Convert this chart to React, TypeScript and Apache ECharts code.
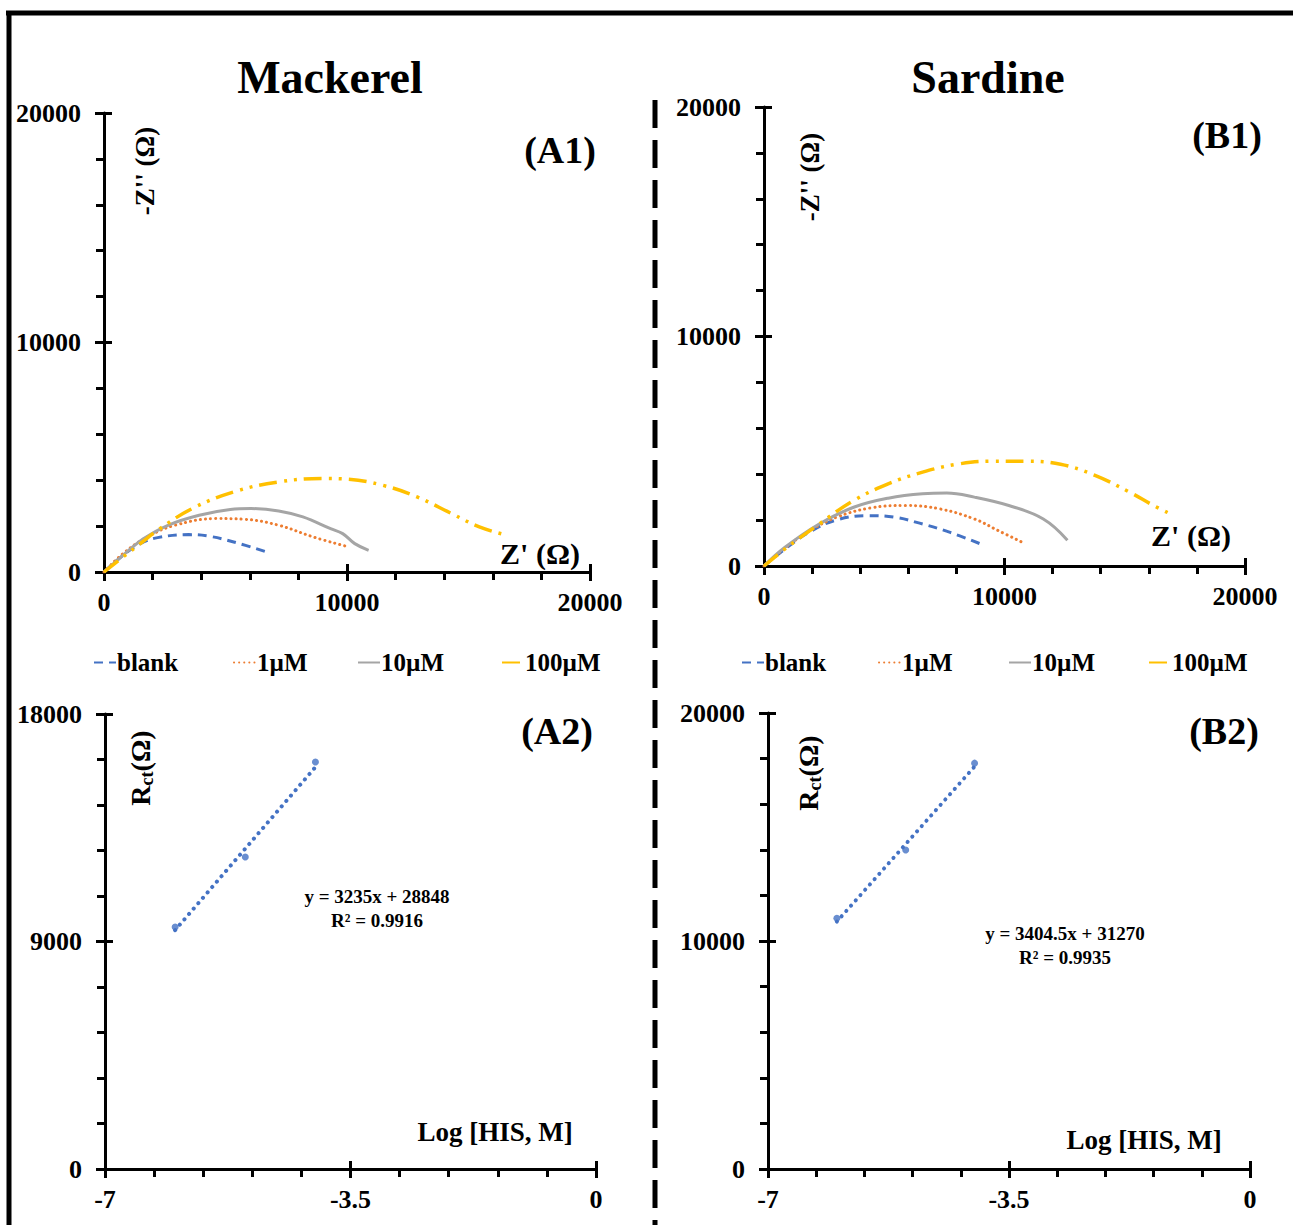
import React, { useEffect, useRef } from "react";
import * as echarts from "echarts";

// ---------- DATA ----------
// Nyquist plots, Mackerel (A1): [Z' (Ω), -Z'' (Ω)]
const a1Blank = [[0, 0], [783, 727], [1495, 1236], [2206, 1498], [3488, 1629], [4342, 1556], [5338, 1309], [6833, 829]];
const a1One = [[0, 0], [783, 800], [1779, 1527], [2918, 2036], [4626, 2327], [5765, 2298], [7189, 2036], [8612, 1527], [9964, 1120]];
const a1Ten = [[0, 0], [783, 727], [1637, 1455], [2633, 2036], [3915, 2473], [5196, 2720], [6050, 2764], [7189, 2662], [8185, 2400], [9324, 1891], [9822, 1673], [10320, 1236], [10890, 945]];
const a1Hundred = [[0, 0], [783, 655], [1495, 1236], [2206, 1818], [3630, 2764], [5338, 3491], [7189, 3927], [9039, 4073], [10036, 4044], [11459, 3782], [12883, 3273], [14306, 2545], [15445, 1964], [16584, 1600]];

// Nyquist plots, Sardine (B1)
const b1Blank = [[0, 0], [860, 732], [1864, 1463], [3011, 2005], [4301, 2195], [5448, 2122], [6595, 1829], [7742, 1463], [8961, 980]];
const b1One = [[0, 0], [860, 770], [1864, 1507], [3011, 2122], [4444, 2532], [5878, 2634], [7312, 2488], [8746, 2049], [9749, 1537], [10753, 1024]];
const b1Ten = [[0, 0], [860, 805], [2294, 1829], [3728, 2561], [5161, 2956], [6595, 3146], [7599, 3176], [8746, 3000], [10179, 2634], [11613, 2049], [12616, 1127]];
const b1Hundred = [[0, 0], [860, 732], [2294, 1829], [3728, 2854], [5161, 3578], [6595, 4090], [8029, 4434], [9462, 4566], [10896, 4566], [12330, 4434], [13763, 3951], [15197, 3220], [16201, 2634], [16846, 2298]];

// Calibration plots: Log [HIS, M] vs Rct (Ω)
const logConc = [-6, -5, -4];
const a2Rct = [9570, 12340, 16100];
const b2Rct = [11000, 13990, 17800];
const trendX = [-6, -4];
const a2Trend = [9450, 15900];
const b2Trend = [10850, 17650];

const legendNames = ["blank", "1µM", "10µM", "100µM"];
const eqA = ["y = 3235x + 28848", "R² = 0.9916"];
const eqB = ["y = 3404.5x + 31270", "R² = 0.9935"];

// ---------- STYLE ----------
const FONT = '"Liberation Serif", "Times New Roman", serif';
const BLUE = "#4472C4";
const ORANGE = "#ED7D31";
const GRAY = "#A5A5A5";
const YELLOW = "#FFC000";

const seriesStyles = [
  { color: BLUE, type: [9, 6] as any, width: 3, cap: "butt" },
  { color: ORANGE, type: [0.1, 5] as any, width: 3, cap: "round" },
  { color: GRAY, type: "solid" as any, width: 3, cap: "butt" },
  { color: YELLOW, type: [18, 7, 3, 7, 3, 7] as any, width: 3.5, cap: "butt" },
];

const grids = [
  { left: 104, top: 113, width: 486, height: 459 },
  { left: 764, top: 107, width: 481, height: 459 },
  { left: 105, top: 714, width: 491, height: 455 },
  { left: 768, top: 713, width: 482, height: 456 },
];

const axisRanges = [
  { x: { min: 0, max: 20000, interval: 10000 }, y: { min: 0, max: 20000, interval: 10000 } },
  { x: { min: 0, max: 20000, interval: 10000 }, y: { min: 0, max: 20000, interval: 10000 } },
  { x: { min: -7, max: 0, interval: 3.5 }, y: { min: 0, max: 18000, interval: 9000 } },
  { x: { min: -7, max: 0, interval: 3.5 }, y: { min: 0, max: 20000, interval: 10000 } },
];

function mainAxis(gridIndex: number, r: any, isX: boolean) {
  return {
    type: "value",
    gridIndex,
    min: r.min,
    max: r.max,
    interval: r.interval,
    position: isX ? "bottom" : "left",
    axisLine: { show: true, onZero: false, lineStyle: { color: "#000", width: 3 } },
    axisTick: { show: true, inside: false, length: 9, lineStyle: { color: "#000", width: 3 } },
    minorTick: { show: true, splitNumber: 5, length: 8, lineStyle: { color: "#000", width: 3 } },
    splitLine: { show: false },
    minorSplitLine: { show: false },
    axisLabel: {
      show: true,
      color: "#000",
      fontFamily: FONT,
      fontWeight: "bold",
      fontSize: 26,
      margin: isX ? 17 : 23,
      formatter: (v: number) => String(v),
    },
  };
}

function overlayAxis(gridIndex: number, r: any, isX: boolean) {
  return {
    type: "value",
    gridIndex,
    min: r.min,
    max: r.max,
    interval: r.interval,
    position: isX ? "bottom" : "left",
    axisLine: { show: false, onZero: false },
    axisTick: { show: true, inside: true, length: 8, lineStyle: { color: "#000", width: 3 } },
    splitLine: { show: false },
    axisLabel: { show: false },
  };
}

function lineSeries(name: string, data: number[][], idx: number, axisIdx: number) {
  const s = seriesStyles[idx];
  return {
    type: "line",
    name,
    data,
    xAxisIndex: axisIdx,
    yAxisIndex: axisIdx,
    smooth: 0.4,
    symbol: "none",
    showSymbol: false,
    lineStyle: { color: s.color, type: s.type, width: s.width, cap: s.cap },
    itemStyle: { color: s.color },
    z: 3 + idx,
  };
}

function txt(text: string, x: number, y: number, fontSize: number, extra: any = {}) {
  return {
    type: "text",
    x,
    y,
    rotation: extra.rotation || 0,
    style: {
      text,
      fill: "#000",
      fontFamily: FONT,
      fontWeight: "bold",
      fontSize,
      align: extra.align || "center",
      verticalAlign: "middle",
      rich: extra.rich,
    },
    z: 10,
  };
}

function legendItem(name: string, left: number, top: number) {
  return {
    data: [name],
    left,
    top,
    orient: "horizontal",
    itemWidth: 22,
    itemHeight: 14,
    itemGap: 0,
    selectedMode: false,
    itemStyle: { opacity: 0 },
    textStyle: { color: "#000", fontFamily: FONT, fontWeight: "bold", fontSize: 25, padding: [0, 0, 0, -4] },
  };
}

export default function App() {
  const ref = useRef<HTMLDivElement>(null);

  useEffect(() => {
    if (!ref.current) return;
    const chart = echarts.init(ref.current, null, { renderer: "svg" });

    const xAxes: any[] = [];
    const yAxes: any[] = [];
    axisRanges.forEach((r, i) => {
      xAxes.push(mainAxis(i, r.x, true));
      yAxes.push(mainAxis(i, r.y, false));
    });
    axisRanges.forEach((r, i) => {
      xAxes.push(overlayAxis(i, r.x, true));
      yAxes.push(overlayAxis(i, r.y, false));
    });

    const a1Sets = [a1Blank, a1One, a1Ten, a1Hundred];
    const b1Sets = [b1Blank, b1One, b1Ten, b1Hundred];

    const series: any[] = [];
    a1Sets.forEach((d, i) => series.push(lineSeries(legendNames[i], d, i, 0)));
    b1Sets.forEach((d, i) => series.push(lineSeries(legendNames[i], d, i, 1)));

    const calib = [
      { rct: a2Rct, trend: a2Trend, axis: 2 },
      { rct: b2Rct, trend: b2Trend, axis: 3 },
    ];
    calib.forEach((c) => {
      series.push({
        type: "line",
        name: "trend" + c.axis,
        data: trendX.map((x, i) => [x, c.trend[i]]),
        xAxisIndex: c.axis,
        yAxisIndex: c.axis,
        symbol: "none",
        lineStyle: { color: BLUE, type: [0.1, 7], width: 4, cap: "round" },
        z: 3,
      });
      series.push({
        type: "scatter",
        name: "Rct" + c.axis,
        data: logConc.map((x, i) => [x, c.rct[i]]),
        xAxisIndex: c.axis,
        yAxisIndex: c.axis,
        symbol: "circle",
        symbolSize: 7,
        itemStyle: { color: BLUE },
        z: 4,
      });
    });

    const legends: any[] = [];
    const aLeft = [88, 228, 352, 496];
    const bLeft = [736, 873, 1003, 1143];
    legendNames.forEach((n, i) => legends.push(legendItem(n, aLeft[i], 645)));
    legendNames.forEach((n, i) => legends.push(legendItem(n, bLeft[i], 645)));

    const rctRich = {
      a: { fontFamily: FONT, fontWeight: "bold", fontSize: 28, fill: "#000" },
      b: { fontFamily: FONT, fontWeight: "bold", fontSize: 18, fill: "#000", padding: [14, 0, 0, 0] },
    };

    const graphic: any[] = [
      // frame
      { type: "line", shape: { x1: 6, y1: 13, x2: 1300, y2: 13 }, style: { stroke: "#000", lineWidth: 5 }, z: 20 },
      { type: "line", shape: { x1: 9, y1: 11, x2: 9, y2: 1230 }, style: { stroke: "#000", lineWidth: 5 }, z: 20 },
      // divider
      { type: "line", shape: { x1: 655, y1: 100, x2: 655, y2: 1230 }, style: { stroke: "#000", lineWidth: 5, lineDash: [28, 12] }, z: 20 },
      txt("Mackerel", 330, 77, 46),
      txt("Sardine", 988, 77, 46),
      txt("(A1)", 560, 150, 38),
      txt("(B1)", 1227, 135, 38),
      txt("(A2)", 557, 731, 38),
      txt("(B2)", 1224, 731, 38),
      txt("-Z'' (Ω)", 145, 171, 27, { rotation: Math.PI / 2 }),
      txt("-Z'' (Ω)", 810, 177, 27, { rotation: Math.PI / 2 }),
      txt("Z' (Ω)", 540, 553, 30),
      txt("Z' (Ω)", 1191, 535, 30),
      txt("{a|R}{b|ct}{a|(Ω)}", 140, 768, 28, { rotation: Math.PI / 2, rich: rctRich }),
      txt("{a|R}{b|ct}{a|(Ω)}", 808, 773, 28, { rotation: Math.PI / 2, rich: rctRich }),
      txt("Log [HIS, M]", 495, 1132, 27),
      txt("Log [HIS, M]", 1144, 1140, 27),
      txt(eqA[0], 377, 896, 19),
      txt(eqA[1], 377, 920, 19),
      txt(eqB[0], 1065, 933, 19),
      txt(eqB[1], 1065, 957, 19),
    ];

    chart.setOption({
      animation: false,
      backgroundColor: "#fff",
      grid: grids.map((g) => ({ ...g, containLabel: false })),
      xAxis: xAxes,
      yAxis: yAxes,
      legend: legends,
      series,
      graphic,
    });

    return () => chart.dispose();
  }, []);

  return (
    <div
      ref={ref}
      style={{ position: "absolute", left: 0, top: 0, width: 1293, height: 1225, background: "#fff" }}
    />
  );
}
